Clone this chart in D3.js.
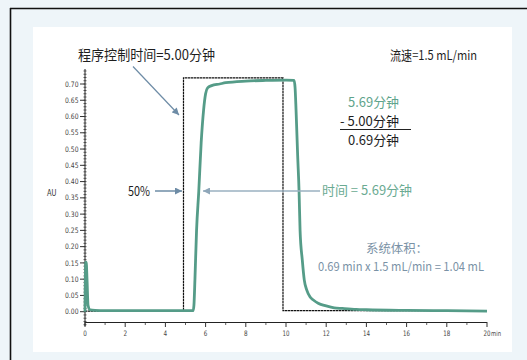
<!DOCTYPE html>
<html><head><meta charset="utf-8">
<script src="https://cdn.jsdelivr.net/npm/d3@7/dist/d3.min.js"></script>
<style>
html,body{margin:0;padding:0;background:#eef5f9;}
svg{display:block;}
text{font-family:"Liberation Sans Narrow","DejaVu Sans Condensed","Noto Sans CJK SC",sans-serif;}
.cjk{font-family:"Liberation Sans Narrow","Noto Sans CJK SC",sans-serif;}
</style></head>
<body>
<svg id="c" width="527" height="360"></svg>
<script>
// ---- data ----
const uvTime = [0,0.03,0.06,0.1,0.15,0.25,0.5,1,2,3,4,5,5.38,5.42,5.47,5.55,5.66,5.78,5.9,6.0,6.1,6.3,6.7,7.0,8.0,9.0,10.0,10.4,10.45,10.5,10.58,10.65,10.7,10.81,10.91,11.03,11.2,11.36,11.6,12.0,12.4,12.8,13.5,14,16,18,20];
const uvAU   = [0,0.15,0.152,0.1,0.02,0.006,0.004,0.003,0.003,0.003,0.003,0.003,0.003,0.02,0.10,0.25,0.37,0.52,0.62,0.67,0.688,0.695,0.70,0.704,0.709,0.711,0.712,0.711,0.69,0.62,0.48,0.37,0.25,0.159,0.097,0.067,0.045,0.036,0.026,0.018,0.012,0.01,0.007,0.006,0.004,0.003,0.002];
const progTime = [0,4.9,4.9,9.85,9.85,20];
const progAU   = [0.002,0.002,0.719,0.719,0.003,0.003];
const xTicks = [0,2,4,6,8,10,12,14,16,18,20];
const yTicks = [0,0.05,0.1,0.15,0.2,0.25,0.3,0.35,0.4,0.45,0.5,0.55,0.6,0.65,0.7];

const svg = d3.select("#c");
// panel + border
svg.append("rect").attr("x",0).attr("y",0).attr("width",527).attr("height",360).attr("fill","#eef5f9");
svg.append("rect").attr("x",33).attr("y",27).attr("width",479).attr("height",325).attr("fill","#ffffff");
svg.append("line").attr("x1",10).attr("x2",527).attr("y1",8.5).attr("y2",8.5).attr("stroke","#111").attr("stroke-width",1.6);
svg.append("line").attr("x1",10.5).attr("x2",10.5).attr("y1",8).attr("y2",360).attr("stroke","#111").attr("stroke-width",1.6);

const x = d3.scaleLinear().domain([0,20]).range([85,487]);
const y = d3.scaleLinear().domain([0,0.7]).range([311.7,84]);

// y axis
const yAxisG = svg.append("g");
yAxisG.append("line").attr("x1",85).attr("x2",85).attr("y1",69).attr("y2",326).attr("stroke","#222").attr("stroke-width",1);
const minorY = d3.range(-0.04,0.75,0.01);
yAxisG.selectAll(".my").data(minorY).enter().append("line")
  .attr("x1",83.5).attr("x2",86.5).attr("y1",d=>y(d)).attr("y2",d=>y(d)).attr("stroke","#333").attr("stroke-width",0.8);
yAxisG.selectAll(".ty").data(yTicks).enter().append("line")
  .attr("x1",80).attr("x2",85).attr("y1",d=>y(d)).attr("y2",d=>y(d)).attr("stroke","#333").attr("stroke-width",1);
yAxisG.selectAll(".ly").data(yTicks).enter().append("text")
  .attr("x",78.5).attr("y",d=>y(d)).attr("dy","0.35em").attr("text-anchor","end")
  .attr("font-size",7.5).attr("fill","#444").attr("textLength",13.5).attr("lengthAdjust","spacingAndGlyphs")
  .text(d=>d3.format(".2f")(d));

// x axis
const xAxisG = svg.append("g");
xAxisG.append("line").attr("x1",85).attr("x2",487).attr("y1",322.5).attr("y2",322.5).attr("stroke","#222").attr("stroke-width",1);
xAxisG.selectAll(".mx").data(d3.range(1,20,2)).enter().append("line")
  .attr("x1",d=>x(d)).attr("x2",d=>x(d)).attr("y1",322.5).attr("y2",325).attr("stroke","#333").attr("stroke-width",0.8);
xAxisG.selectAll(".tx").data(xTicks).enter().append("line")
  .attr("x1",d=>x(d)).attr("x2",d=>x(d)).attr("y1",322).attr("y2",327).attr("stroke","#333").attr("stroke-width",1);
xAxisG.selectAll(".lx").data(xTicks).enter().append("text")
  .attr("x",d=>x(d)).attr("y",336).attr("text-anchor","middle")
  .attr("font-size",7.5).attr("fill","#444")
  .each(function(d){ d3.select(this).attr("textLength", d>=10?7:3.6).attr("lengthAdjust","spacingAndGlyphs"); })
  .text(d=>d);
xAxisG.append("text").attr("x",x(20)+4).attr("y",336).attr("font-size",7).attr("fill","#444")
  .attr("textLength",10).attr("lengthAdjust","spacingAndGlyphs").text("min");

svg.append("text").attr("x",47).attr("y",196).attr("font-size",8.5).attr("fill","#333")
  .attr("textLength",9.5).attr("lengthAdjust","spacingAndGlyphs").text("AU");

// lines
const prog = progTime.map((t,i)=>[t,progAU[i]]);
svg.append("path").datum(prog)
  .attr("d",d3.line().x(d=>x(d[0])).y(d=>y(d[1])))
  .attr("fill","none").attr("stroke","#111").attr("stroke-width",1.2).attr("stroke-dasharray","2.5,0.5");
const uv = uvTime.map((t,i)=>[t,uvAU[i]]);
svg.append("path").datum(uv)
  .attr("d",d3.line().x(d=>x(d[0])).y(d=>y(d[1])).curve(d3.curveMonotoneX))
  .attr("fill","none").attr("stroke","#559c88").attr("stroke-width",2.8).attr("stroke-linejoin","round");

// markers
const defs = svg.append("defs");
function mk(id,col){
  defs.append("marker").attr("id",id).attr("viewBox","0 0 10 10").attr("refX",10).attr("refY",5)
   .attr("markerWidth",8).attr("markerHeight",7).attr("markerUnits","userSpaceOnUse").attr("orient","auto")
   .append("path").attr("d","M0,0L10,5L0,10z").attr("fill",col);
}
mk("a1","#6e8ca6"); mk("a2","#8fa7b9");

svg.append("line").attr("x1",133).attr("y1",66.5).attr("x2",179).attr("y2",115)
  .attr("stroke","#6e8ca6").attr("stroke-width",1.2).attr("marker-end","url(#a1)");
svg.append("line").attr("x1",155).attr("y1",191).attr("x2",182).attr("y2",191)
  .attr("stroke","#6e8ca6").attr("stroke-width",1.5).attr("marker-end","url(#a1)");
svg.append("line").attr("x1",320).attr("y1",191).attr("x2",203).attr("y2",191)
  .attr("stroke","#9ab0c0").attr("stroke-width",1.5).attr("marker-end","url(#a2)");

// text
function t(xp,yp,s,size,col,w){
  const e = svg.append("text").attr("class","cjk").attr("x",xp).attr("y",yp).attr("font-size",size)
    .attr("fill",col).text(s);
  if (w) e.attr("textLength",w).attr("lengthAdjust","spacingAndGlyphs");
  return e;
}
t(78,60,"程序控制时间=5.00分钟",14,"#1e1e1e",137);
t(390,60,"流速=1.5 mL/min",13,"#1e1e1e",87);
t(348,107,"5.69分钟",13,"#5fa48c",51);
t(340,126,"- 5.00分钟",13,"#1e1e1e",59);
svg.append("line").attr("x1",340).attr("x2",411).attr("y1",129.5).attr("y2",129.5).attr("stroke","#222").attr("stroke-width",1);
t(348,145,"0.69分钟",13,"#1e1e1e",51);
t(128,196,"50%",13,"#1e1e1e",22);
t(322,195,"时间 = 5.69分钟",13,"#6aaa92",90);
t(366,253,"系统体积：",12,"#7a92a6",62);
t(318,270.5,"0.69 min x 1.5 mL/min = 1.04 mL",12,"#7a92a6",166);
</script>
</body></html>
